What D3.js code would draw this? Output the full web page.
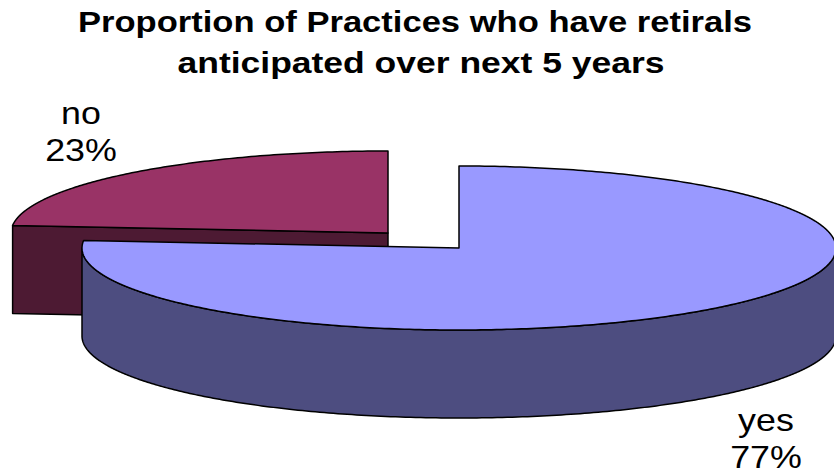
<!DOCTYPE html>
<html>
<head>
<meta charset="utf-8">
<script src="https://cdn.jsdelivr.net/npm/d3@7"></script>
<style>
  html, body { margin: 0; background: #fff; }
  text { font-family: "Liberation Sans", Arial, sans-serif; fill: #000; }
  .edge { stroke: #000; stroke-width: 1.5; stroke-linejoin: round; }
</style>
</head>
<body>
<svg id="chart" width="834" height="472"></svg>
<script>
const categories = ["yes", "no"];
const shares = [77, 23];
const titleLines = ["Proportion of Practices who have retirals", "anticipated over next 5 years"];
const topColors = ["#9999ff", "#993366"];
const sideColors = ["#4d4d80", "#4d1a33"];

const svg = d3.select("#chart");

const pie = d3.pie().sort(null).value(d => d);
const slices = pie(shares);

// each slice has its own centre, the pie is exploded
const centers = [{ x: 459, y: 248 }, { x: 388, y: 233 }];
const rx = 377, ry = 82, depth = 88;
const foreshorten = 0.735; // tilted view pulls the cut edges towards the horizontal

const px = d3.scaleLinear().domain([0, 1]);
const py = d3.scaleLinear().domain([0, 1]);

function rimPoints(c, a0, a1) {
  const pts = [];
  const n = Math.ceil(Math.abs(a1 - a0) / 0.01);
  px.range([c.x, c.x + rx]);
  py.range([c.y, c.y - ry]);
  for (let i = 0; i <= n; i++) {
    const a = a0 + (a1 - a0) * i / n;
    const view = Math.atan2(Math.sin(a), foreshorten * Math.cos(a));
    pts.push([px(Math.sin(view)), py(Math.cos(view))]);
  }
  return pts;
}

const line = d3.line();

function drawSlice(i) {
  const s = slices[i], c = centers[i];
  const g = svg.append("g");
  const rim = rimPoints(c, s.startAngle, s.endAngle);

  // outer wall, only the part of the rim that faces the viewer
  const a0 = Math.max(s.startAngle, Math.PI / 2);
  const a1 = Math.min(s.endAngle, Math.PI * 1.5);
  if (a1 > a0) {
    const front = rimPoints(c, a0, a1);
    const wall = front.concat(front.slice().reverse().map(p => [p[0], p[1] + depth]));
    g.append("path").attr("class", "edge").attr("d", line(wall) + "Z").attr("fill", sideColors[i]);
  }

  // cut face of the "no" slice, facing the viewer
  if (i === 1) {
    const tip = rim[0];
    const face = [tip, [c.x, c.y], [c.x, c.y + depth], [tip[0], tip[1] + depth]];
    g.append("path").attr("class", "edge").attr("d", line(face) + "Z").attr("fill", sideColors[i]);
  }

  g.append("path").attr("class", "edge")
    .attr("d", line([[c.x, c.y], ...rim]) + "Z")
    .attr("fill", topColors[i]);
}

// back slice first
drawSlice(1);
drawSlice(0);

const titleWidths = [674, 487];
svg.selectAll("text.title").data(titleLines).join("text")
  .attr("class", "title")
  .attr("x", (d, i) => i ? 421 : 415)
  .attr("y", (d, i) => 32 + i * 41)
  .attr("text-anchor", "middle")
  .attr("font-size", 29)
  .attr("font-weight", "bold")
  .attr("textLength", (d, i) => titleWidths[i])
  .attr("lengthAdjust", "spacingAndGlyphs")
  .text(d => d);

// labels are stretched sideways in the original
const labelPos = [{ x: 766, y: 431 }, { x: 81, y: 124 }];
categories.forEach((cat, i) => {
  const t = svg.append("text")
    .attr("transform", `translate(${labelPos[i].x},${labelPos[i].y}) scale(1.12,1)`)
    .attr("text-anchor", "middle")
    .attr("font-size", 32);
  t.append("tspan").attr("x", 0).attr("y", 0).text(cat);
  t.append("tspan").attr("x", 0).attr("y", 37).text(shares[i] + "%");
});
</script>
</body>
</html>
